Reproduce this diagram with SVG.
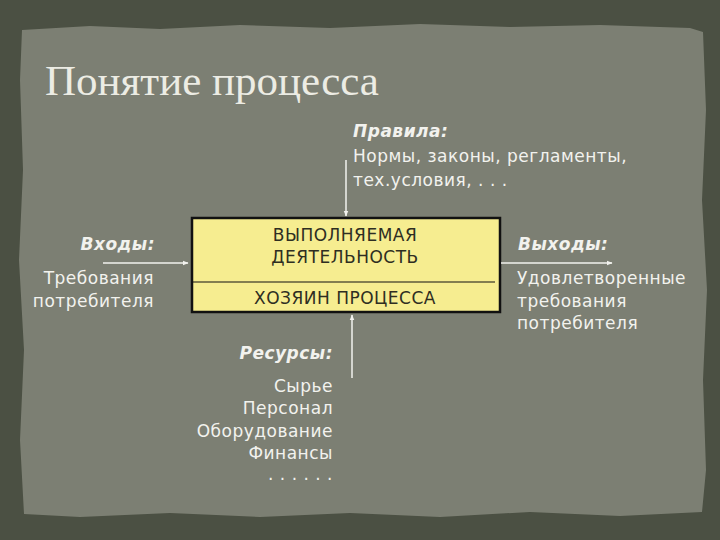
<svg xmlns="http://www.w3.org/2000/svg" width="720" height="540" viewBox="0 0 720 540">
<defs>
<style>
.t{font-family:"DejaVu Sans","Noto Sans",sans-serif;font-size:17px;letter-spacing:0.5px;fill:#f2f2ee}
.h{font-family:"DejaVu Sans","Noto Sans",sans-serif;font-size:17px;letter-spacing:0.5px;fill:#f2f2ee;font-weight:bold;font-style:italic}
.b{font-family:"DejaVu Sans","Noto Sans",sans-serif;font-size:17px;letter-spacing:0.5px;fill:#2e2e22}
.c{stroke:#f2f2ee;stroke-width:1.5;fill:none}
</style>
<marker id="ah" viewBox="0 0 10 10" refX="9" refY="5" markerWidth="6" markerHeight="6" orient="auto" markerUnits="userSpaceOnUse">
<path d="M0,1 L10,5 L0,9 z" fill="#f2f2ee"/>
</marker>
</defs>
<rect x="0" y="0" width="720" height="540" fill="#4b5043"/>
<path d="M22,30 L90,26 L160,29 L240,25 L330,28 L420,24 L510,27 L600,25 L690,28 L703,32 L706,110 L702,200 L707,290 L703,380 L706,470 L702,512 L620,516 L530,512 L440,517 L350,513 L260,517 L170,513 L80,517 L24,514 L20,440 L24,350 L19,260 L23,170 L20,80 Z" fill="#7c7f73"/>
<text x="45" y="95" font-family="'Liberation Serif','DejaVu Serif',serif" font-size="43" fill="#ecece4">Понятие процесса</text>
<g id="process">
<rect x="192" y="218" width="308" height="94" fill="#f6ed90" stroke="#111" stroke-width="2.5"/>
<line x1="192" y1="282" x2="495" y2="282" stroke="#111" stroke-width="1.2"/>
<text class="b" x="345" y="241" text-anchor="middle">ВЫПОЛНЯЕМАЯ</text>
<text class="b" x="345" y="263" text-anchor="middle">ДЕЯТЕЛЬНОСТЬ</text>
<text class="b" x="345" y="304" text-anchor="middle">ХОЗЯИН ПРОЦЕССА</text>
</g>
<g id="rules">
<text class="h" x="353" y="137">Правила:</text>
<text class="t" x="353" y="162">Нормы, законы, регламенты,</text>
<text class="t" x="353" y="186">тех.условия, . . .</text>
</g>
<g id="inputs">
<text class="h" x="155" y="250" text-anchor="end">Входы:</text>
<text class="t" x="154" y="284" text-anchor="end">Требования</text>
<text class="t" x="154" y="307" text-anchor="end">потребителя</text>
</g>
<g id="outputs">
<text class="h" x="518" y="250">Выходы:</text>
<text class="t" x="517" y="284">Удовлетворенные</text>
<text class="t" x="517" y="307">требования</text>
<text class="t" x="517" y="329">потребителя</text>
</g>
<g id="resources">
<text class="h" x="333" y="359" text-anchor="end">Ресурсы:</text>
<text class="t" x="333" y="392" text-anchor="end">Сырье</text>
<text class="t" x="333" y="414" text-anchor="end">Персонал</text>
<text class="t" x="333" y="437" text-anchor="end">Оборудование</text>
<text class="t" x="333" y="459" text-anchor="end">Финансы</text>
<text class="t" x="333" y="480" text-anchor="end">. . . . . .</text>
</g>
<g id="connectors">
<line class="c" x1="346" y1="160" x2="346" y2="216" marker-end="url(#ah)"/>
<line class="c" x1="103" y1="263" x2="188" y2="263" marker-end="url(#ah)"/>
<line class="c" x1="501" y1="263" x2="612" y2="263" marker-end="url(#ah)"/>
<line class="c" x1="352" y1="378" x2="352" y2="315" marker-end="url(#ah)"/>
</g>
</svg>
